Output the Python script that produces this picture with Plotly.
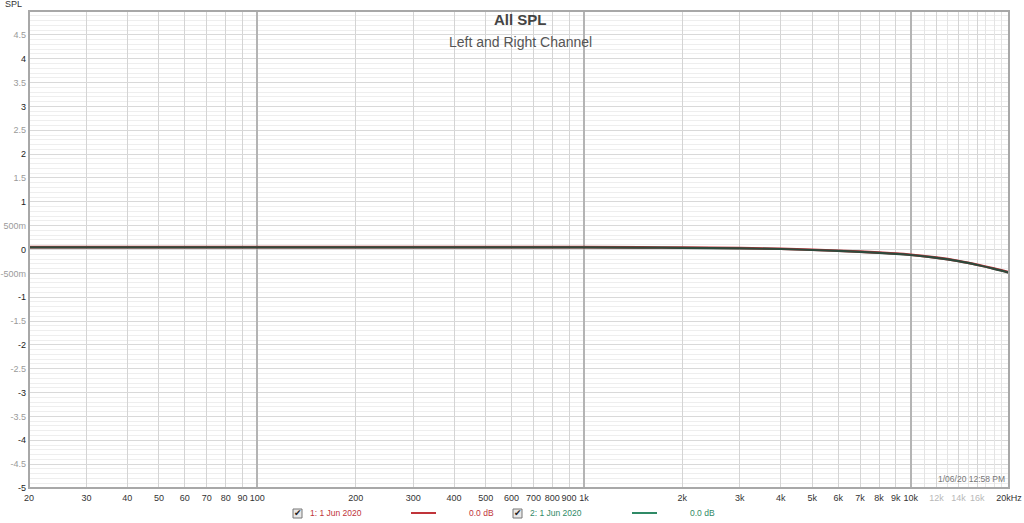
import math
import plotly.graph_objects as go

# ---------------- data ----------------
FREQ_HZ = [20, 30, 50, 100, 200, 500, 1000, 1500, 2000, 3000, 4000, 5000,
           6000, 7000, 8000, 9000, 10000, 12000, 14000, 16000, 18000, 20000]
LEFT_DB = [0.05, 0.05, 0.05, 0.05, 0.05, 0.05, 0.05, 0.045, 0.04, 0.03, 0.015, -0.005,
           -0.025, -0.045, -0.065, -0.085, -0.11, -0.17, -0.24, -0.32, -0.40, -0.48]
RIGHT_DB = [0.045, 0.045, 0.045, 0.045, 0.045, 0.045, 0.045, 0.04, 0.035, 0.025, 0.01, -0.01,
            -0.03, -0.05, -0.07, -0.09, -0.115, -0.175, -0.245, -0.325, -0.405, -0.485]

X_TICKS = [20, 30, 40, 50, 60, 70, 80, 90, 100, 200, 300, 400, 500, 600, 700, 800, 900,
           1000, 2000, 3000, 4000, 5000, 6000, 7000, 8000, 9000, 10000, 12000, 14000, 16000, 20000]
X_LABELS = ["20", "30", "40", "50", "60", "70", "80", "90", "100", "200", "300", "400", "500",
            "600", "700", "800", "900", "1k", "2k", "3k", "4k", "5k", "6k", "7k", "8k", "9k",
            "10k", "12k", "14k", "16k", "20kHz"]
X_FAINT_LABELS = ["12k", "14k", "16k"]
X_MINOR = [11000, 13000, 15000, 17000, 18000, 19000]
X_DECADES = [100, 1000, 10000]

Y_TICKS = [-5, -4.5, -4, -3.5, -3, -2.5, -2, -1.5, -1, -0.5, 0, 0.5, 1, 1.5, 2, 2.5, 3, 3.5, 4, 4.5]
Y_LABELS = ["-5", "-4.5", "-4", "-3.5", "-3", "-2.5", "-2", "-1.5", "-1", "-500m", "0", "500m",
            "1", "1.5", "2", "2.5", "3", "3.5", "4", "4.5"]

TITLE = "All SPL"
SUBTITLE = "Left and Right Channel"
Y_UNIT = "SPL"
TIMESTAMP = "1/06/20 12:58 PM"
SERIES_NAMES = ["1: 1 Jun 2020", "2: 1 Jun 2020"]
SERIES_VALUES = ["0.0 dB", "0.0 dB"]
SERIES_COLORS = ["#c0343a", "#2f8a66"]
FONT = "Liberation Sans, Arial, sans-serif"

# ---------------- figure ----------------
fig = go.Figure()
xr = [math.log10(FREQ_HZ[0]), math.log10(FREQ_HZ[-1])]

# invisible traces so that the overlay grids render
for ax in ["x2", "x3"]:
    fig.add_trace(go.Scatter(x=[FREQ_HZ[0]], y=[LEFT_DB[0]], xaxis=ax, mode="markers",
                             marker=dict(opacity=0), hoverinfo="skip", showlegend=False))
fig.add_trace(go.Scatter(x=FREQ_HZ, y=LEFT_DB, mode="lines",
                         line=dict(color=SERIES_COLORS[0], width=2.6, shape="spline"),
                         name=SERIES_NAMES[0], showlegend=False))
fig.add_trace(go.Scatter(x=FREQ_HZ, y=RIGHT_DB, mode="lines",
                         line=dict(color="#2f4a3c", width=2.2, shape="spline"),
                         name=SERIES_NAMES[1], showlegend=False))

xt_text = []
for lab in X_LABELS:
    if lab in X_FAINT_LABELS:
        xt_text.append(f'<span style="color:#b8b8b8">{lab}</span>')
    else:
        xt_text.append(lab)
yt_text = []
for v, lab in zip(Y_TICKS, Y_LABELS):
    if float(v).is_integer():
        yt_text.append(f'<span style="color:#222222">{lab}</span>')
    else:
        yt_text.append(f'<span style="color:#9a9a9a">{lab}</span>')

fig.update_layout(
    width=1024, height=523,
    margin=dict(l=29, r=15, t=11, b=35, autoexpand=False),
    paper_bgcolor="white", plot_bgcolor="white",
    font=dict(family=FONT, size=9, color="#333333"),
    showlegend=False,
    xaxis=dict(type="log", range=xr, tickmode="array", tickvals=X_TICKS, ticktext=xt_text,
               showgrid=True, gridcolor="#d4d4d4", gridwidth=1, zeroline=False,
               ticks="", tickangle=0, automargin=False,
               tickfont=dict(size=9, color="#333333"), ticklabelstandoff=3,
               showline=False, fixedrange=True),
    xaxis2=dict(type="log", range=xr, overlaying="x", tickmode="array", tickvals=X_DECADES,
                showticklabels=False, showgrid=True, gridcolor="#b4b4b4", gridwidth=2, ticks="",
                zeroline=False, showline=False, automargin=False),
    xaxis3=dict(type="log", range=xr, overlaying="x", tickmode="array", tickvals=X_MINOR,
                showticklabels=False, showgrid=True, gridcolor="#e4e4e4", gridwidth=1, ticks="",
                zeroline=False, showline=False, automargin=False),
    yaxis=dict(range=[-5, 5], tickmode="array", tickvals=Y_TICKS, ticktext=yt_text,
               showgrid=True, gridcolor="#d9d9d9", gridwidth=1, zeroline=False,
               ticks="", tickfont=dict(size=9), ticklabelstandoff=2, automargin=False,
               minor=dict(dtick=0.1, showgrid=True, gridcolor="#eeeeee", ticks=""),
               showline=False, fixedrange=True),
)

# frame
fig.add_shape(type="rect", xref="paper", yref="paper", x0=0, x1=1, y0=0, y1=1,
              line=dict(color="#a8a8a8", width=2), layer="above")

# titles
fig.add_annotation(text=f"<b>{TITLE}</b>", xref="paper", yref="paper", x=0.502, y=0.983,
                   xanchor="center", yanchor="middle", showarrow=False,
                   font=dict(size=15, color="#444444", family=FONT))
fig.add_annotation(text=SUBTITLE, xref="paper", yref="paper", x=0.502, y=0.935,
                   xanchor="center", yanchor="middle", showarrow=False,
                   font=dict(size=14, color="#555555", family=FONT))
fig.add_annotation(text=Y_UNIT, xref="paper", yref="paper", x=-0.016, y=1.0,
                   xanchor="center", yanchor="bottom", showarrow=False,
                   font=dict(size=9, color="#333333", family=FONT))
fig.add_annotation(text=TIMESTAMP, xref="paper", yref="paper", x=0.998, y=0.005,
                   xanchor="right", yanchor="bottom", showarrow=False,
                   font=dict(size=8.5, color="#777777", family=FONT))

# legend row (pixel layout converted to paper coords)
L, W = 29, 1024 - 29 - 15
T, H = 11, 523 - 11 - 35
def px(xp):
    return (xp - L) / W
def py(yp):
    return 1 - (yp - T) / H

legend_x = [(298, 308, 411, 467), (518, 528, 632, 688)]
ly = 513
for (cb, tx, lx, vx), name, val, col in zip(legend_x, SERIES_NAMES, SERIES_VALUES, SERIES_COLORS):
    fig.add_shape(type="rect", xref="paper", yref="paper", x0=px(cb - 5), x1=px(cb + 4),
                  y0=py(ly + 5), y1=py(ly - 4), line=dict(color="#777777", width=1), fillcolor="#e8e8e8")
    fig.add_annotation(text="✔", xref="paper", yref="paper", x=px(cb), y=py(ly),
                       xanchor="center", yanchor="middle", showarrow=False,
                       font=dict(size=9, color="#222222", family="DejaVu Sans"))
    fig.add_annotation(text=name, xref="paper", yref="paper", x=px(tx), y=py(ly),
                       xanchor="left", yanchor="middle", showarrow=False,
                       font=dict(size=8.5, color=col, family=FONT))
    fig.add_shape(type="line", xref="paper", yref="paper", x0=px(lx), x1=px(lx + 25),
                  y0=py(ly), y1=py(ly), line=dict(color=col, width=2))
    fig.add_annotation(text=val, xref="paper", yref="paper", x=px(vx), y=py(ly),
                       xanchor="left", yanchor="middle", showarrow=False,
                       font=dict(size=8.5, color=col, family=FONT))

fig.write_html("out.html", config={"displayModeBar": False},
               post_script="document.body.style.margin='0';document.body.style.overflow='hidden';")
